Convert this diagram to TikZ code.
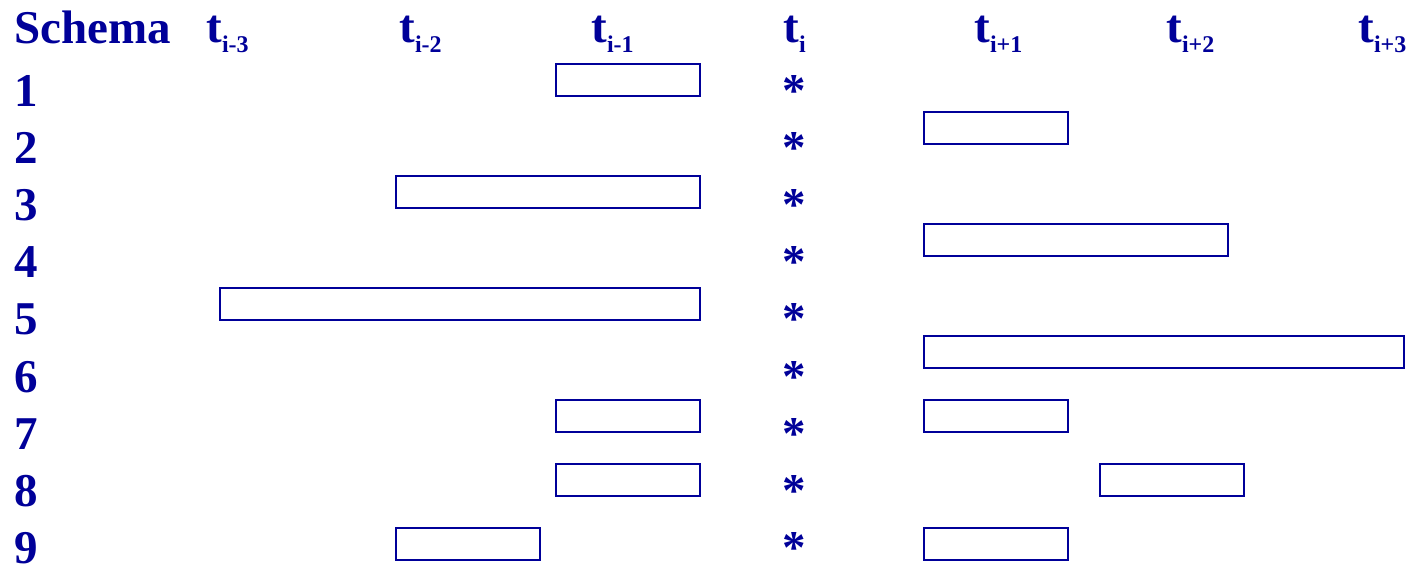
\documentclass[tikz,border=0pt]{standalone}
\usepackage{fontspec}
\setmainfont{Liberation Serif}
\usepackage{xcolor}
\usepackage{tikz}
\usetikzlibrary{positioning}
\definecolor{schemablue}{RGB}{0, 0, 153}
\newcommand{\tlabel}[1]{t{\fontsize{12}{14}\selectfont\raisebox{-5pt}{#1}}}

\begin{document}
\begin{tikzpicture}[x=0.5pt, y=-0.5pt]
  \tikzstyle{big} = [inner sep=0, anchor=base west, text=schemablue, font=\fontsize{23.5}{28}\selectfont\bfseries]
  \tikzstyle{slot} = [rectangle, draw=schemablue, line width=1pt, inner sep=0, minimum height=16pt]

  \useasboundingbox (0,0) rectangle (1416,567);

  % header
  \node (schema) [big] at (14,44) {Schema};
  \node (tm3) [big] at (206,43) {\tlabel{i-3}};
  \node (tm2) [big] at (399,43) {\tlabel{i-2}};
  \node (tm1) [big] at (591,43) {\tlabel{i-1}};
  \node (t0)  [big] at (783,43) {\tlabel{i}};
  \node (tp1) [big] at (974,43) {\tlabel{i+1}};
  \node (tp2) [big] at (1166,43) {\tlabel{i+2}};
  \node (tp3) [big] at (1358,43) {\tlabel{i+3}};

  % rows and the current point
  \foreach \r in {1,...,9} {
    \node (row\r) [big] at (14,{106+57.2*(\r-1)}) {\r};
    \node (ast\r) [big, anchor=base] at (794,{106+57.2*(\r-1)}) {*};
  }

  % slots
  \node (b1)  [slot, minimum width=72pt]  at (628,80) {};
  \node (b2)  [slot, minimum width=72pt]  at (996,128) {};
  \node (b3)  [slot, minimum width=152pt] at (548,192) {};
  \node (b4)  [slot, minimum width=152pt] at (1076,240) {};
  \node (b5)  [slot, minimum width=240pt] at (460,304) {};
  \node (b6)  [slot, minimum width=240pt] at (1164,352) {};
  \node (b7a) [slot, minimum width=72pt]  at (628,416) {};
  \node (b7b) [slot, minimum width=72pt]  at (996,416) {};
  \node (b8a) [slot, minimum width=72pt]  at (628,480) {};
  \node (b8b) [slot, minimum width=72pt]  at (1172,480) {};
  \node (b9a) [slot, minimum width=72pt]  at (468,544) {};
  \node (b9b) [slot, minimum width=72pt]  at (996,544) {};
\end{tikzpicture}
\end{document}
